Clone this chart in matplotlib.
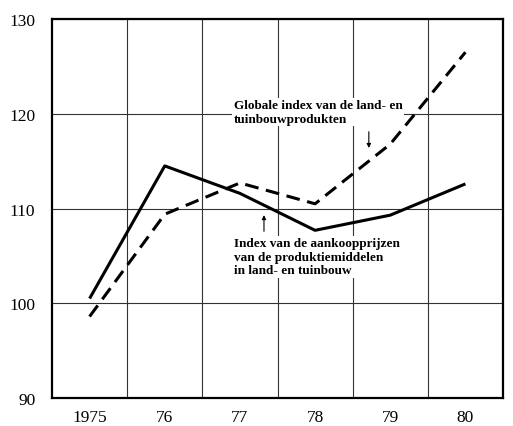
import matplotlib.pyplot as plt
import numpy as np

# jaren en indexcijfers
jaren = [1975, 1976, 1977, 1978, 1979, 1980]
jaar_labels = ['1975', '76', '77', '78', '79', '80']
aankoopprijzen = [100.5, 114.5, 111.6, 107.7, 109.3, 112.6]
produkten = [98.6, 109.4, 112.7, 110.5, 116.8, 126.5]

plt.rcParams['font.family'] = ['Liberation Serif', 'DejaVu Serif']

fig = plt.figure(figsize=(5.13, 4.27), dpi=100)
ax = fig.add_axes([0.1014, 0.0656, 0.8791, 0.8874])

ax.plot(jaren, aankoopprijzen, color='black', lw=2.2, solid_capstyle='butt')
ax.plot(jaren, produkten, color='black', lw=2.2, dashes=(4.5, 2.5))

ax.set_xlim(1974.5, 1980.5)
ax.set_ylim(90, 130)
ax.set_xticks(jaren)
ax.set_xticklabels(jaar_labels)
ax.set_yticks([90, 100, 110, 120, 130])
ax.set_xticks(np.arange(1975.5, 1980, 1), minor=True)
ax.tick_params(axis='both', which='both', length=0, labelsize=12.5)
ax.tick_params(axis='y', pad=12)
ax.tick_params(axis='x', pad=8)

ax.grid(axis='x', which='minor', color='#333333', lw=0.8)
ax.grid(axis='y', which='major', color='#333333', lw=0.8)
ax.set_axisbelow(True)
for s in ax.spines.values():
    s.set_linewidth(1.6)

# teksten
ax.text(1976.92, 120.2, 'Globale index van de land- en\ntuinbouwprodukten',
        fontsize=9.5, fontweight='bold', va='center', ha='left', linespacing=1.15,
        bbox=dict(facecolor='white', edgecolor='none', pad=1))
ax.annotate('', xy=(1978.715, 116.1), xytext=(1978.715, 118.4),
            arrowprops=dict(arrowstyle='-|>', lw=0.8, color='black', mutation_scale=6))

ax.text(1976.92, 104.9, 'Index van de aankoopprijzen\nvan de produktiemiddelen\nin land- en tuinbouw',
        fontsize=9.5, fontweight='bold', va='center', ha='left', linespacing=1.15,
        bbox=dict(facecolor='white', edgecolor='none', pad=1))
ax.annotate('', xy=(1977.32, 109.6), xytext=(1977.32, 107.3),
            arrowprops=dict(arrowstyle='-|>', lw=0.8, color='black', mutation_scale=6))

plt.savefig('out.png', dpi=100)
